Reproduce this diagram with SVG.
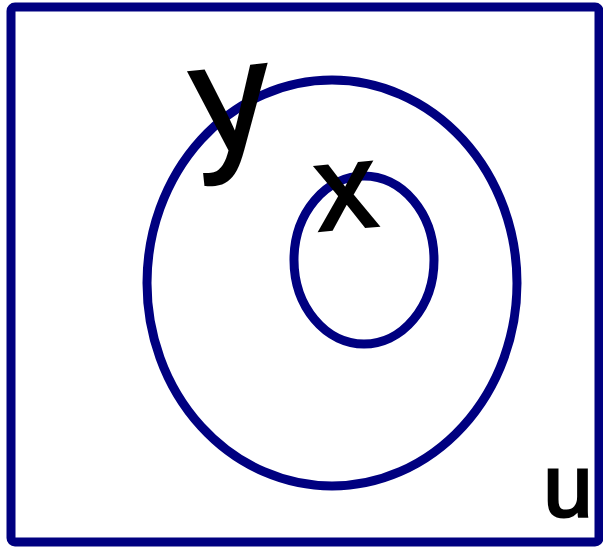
<svg xmlns="http://www.w3.org/2000/svg" width="603" height="548" viewBox="0 0 603 548">
<style>
.set{fill:none;stroke:#000080;stroke-width:9}
.lbl{font-family:"Liberation Sans",Arial,sans-serif;fill:#000;stroke:#000;stroke-width:3;text-anchor:middle}
</style>
<rect width="603" height="548" fill="#fff"/>
<g id="universe">
<rect class="set" x="11" y="7" width="588" height="535" rx="4"/>
<text class="lbl" x="568" y="516" font-size="88">u</text>
</g>
<g id="setY">
<ellipse class="set" cx="332" cy="283" rx="185" ry="203"/>
<text class="lbl" x="234" y="150" font-size="155" transform="rotate(-6 234 130)">y</text>
</g>
<g id="setX">
<ellipse class="set" cx="364" cy="260" rx="70" ry="84"/>
<text class="lbl" x="346" y="228" font-size="120" transform="rotate(-5 346 195)">x</text>
</g>
</svg>
